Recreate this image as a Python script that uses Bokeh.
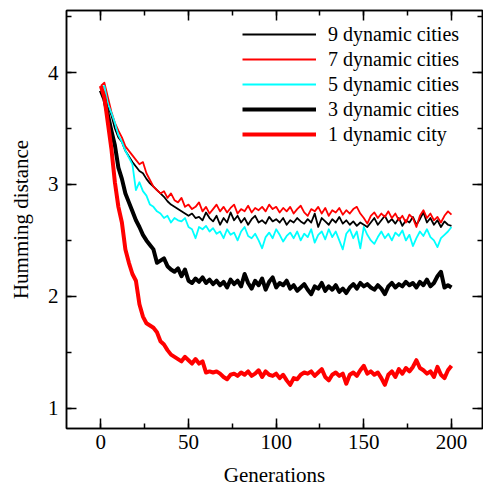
from bokeh.plotting import figure
from bokeh.models import Range1d, LinearAxis, SingleIntervalTicker, Legend, LegendItem
from bokeh.embed import file_html
from bokeh.resources import INLINE

gens = list(range(0, 201, 2))

city9 = [3.85, 3.82, 3.70, 3.62, 3.50, 3.42, 3.38, 3.30, 3.25, 3.20,
         3.16, 3.12, 3.10, 3.05, 3.01, 2.98, 2.95, 2.92, 2.89, 2.85,
         2.82, 2.80, 2.78, 2.76, 2.74, 2.72, 2.74, 2.70, 2.71, 2.68,
         2.75, 2.70, 2.67, 2.72, 2.64, 2.70, 2.66, 2.75, 2.68, 2.72,
         2.66, 2.70, 2.64, 2.69, 2.72, 2.66, 2.68, 2.65, 2.71, 2.67,
         2.69, 2.66, 2.70, 2.64, 2.68, 2.66, 2.70, 2.67, 2.65, 2.69,
         2.66, 2.74, 2.62, 2.70, 2.67, 2.64, 2.69, 2.66, 2.71, 2.65,
         2.68, 2.64, 2.67, 2.63, 2.66, 2.64, 2.62, 2.66, 2.70, 2.64,
         2.68, 2.72, 2.66, 2.69, 2.65, 2.70, 2.63, 2.68, 2.66, 2.71,
         2.64, 2.69, 2.75, 2.66, 2.70, 2.64, 2.68, 2.62, 2.67, 2.64,
         2.63]

city7 = [3.88, 3.91, 3.78, 3.65, 3.55, 3.48, 3.42, 3.34, 3.30, 3.26,
         3.22, 3.18, 3.20, 3.10, 3.04, 2.98, 2.95, 2.92, 2.94, 2.88,
         2.92, 2.86, 2.84, 2.88, 2.80, 2.82, 2.78, 2.80, 2.84, 2.76,
         2.80, 2.74, 2.78, 2.82, 2.76, 2.80, 2.75, 2.79, 2.82, 2.74,
         2.78, 2.76, 2.81, 2.75, 2.79, 2.77, 2.80, 2.76, 2.82, 2.78,
         2.80, 2.75, 2.79, 2.76, 2.80, 2.74, 2.78, 2.81, 2.75, 2.72,
         2.78, 2.76, 2.80, 2.74, 2.79, 2.72, 2.77, 2.75, 2.79, 2.73,
         2.77, 2.74, 2.78, 2.80, 2.74, 2.70, 2.65, 2.72, 2.75, 2.70,
         2.74, 2.71, 2.76, 2.70, 2.74, 2.68, 2.72, 2.66, 2.73, 2.70,
         2.62, 2.72, 2.77, 2.70, 2.74, 2.68, 2.71, 2.66, 2.72, 2.76,
         2.73]

city5 = [3.86, 3.88, 3.72, 3.64, 3.55, 3.44, 3.38, 3.30, 3.24, 3.18,
         2.95, 3.02, 2.94, 2.90, 2.82, 2.80, 2.76, 2.74, 2.70, 2.72,
         2.66, 2.70, 2.68, 2.67, 2.70, 2.62, 2.60, 2.52, 2.62, 2.60,
         2.63, 2.58, 2.61, 2.56, 2.58, 2.52, 2.60, 2.55, 2.57, 2.50,
         2.58, 2.62, 2.54, 2.52, 2.56, 2.50, 2.43, 2.53, 2.57, 2.52,
         2.60, 2.55, 2.49, 2.54, 2.57, 2.52, 2.58, 2.50, 2.56, 2.53,
         2.60, 2.48, 2.55, 2.58, 2.51, 2.60, 2.53, 2.58, 2.50, 2.42,
         2.56, 2.60, 2.52, 2.58, 2.43, 2.62, 2.55, 2.50, 2.47, 2.53,
         2.58, 2.52, 2.56, 2.50, 2.57, 2.54, 2.59, 2.50, 2.55, 2.45,
         2.52, 2.58, 2.54, 2.60, 2.53, 2.50, 2.44, 2.52, 2.55, 2.58,
         2.62]

city3 = [3.84, 3.76, 3.62, 3.48, 3.35, 3.15, 3.05, 2.92, 2.84, 2.76,
         2.68, 2.62, 2.55, 2.50, 2.46, 2.42, 2.30, 2.32, 2.34, 2.27,
         2.24, 2.22, 2.25, 2.18, 2.24, 2.14, 2.12, 2.16, 2.13, 2.17,
         2.12, 2.15, 2.11, 2.14, 2.10, 2.13, 2.08, 2.15, 2.11, 2.14,
         2.09, 2.20, 2.12, 2.07, 2.14, 2.10, 2.16, 2.06, 2.13, 2.17,
         2.08, 2.12, 2.10, 2.14, 2.07, 2.10, 2.05, 2.08, 2.11, 2.06,
         2.02, 2.09, 2.07, 2.12, 2.05, 2.09, 2.06, 2.10, 2.04, 2.07,
         2.03, 2.08, 2.11, 2.07, 2.12, 2.09, 2.11, 2.08, 2.06, 2.10,
         2.07, 2.02, 2.09, 2.12, 2.08, 2.11, 2.09, 2.13, 2.10, 2.12,
         2.08, 2.13, 2.10, 2.15, 2.09, 2.12, 2.18, 2.22, 2.08, 2.10,
         2.08]

city1 = [3.88, 3.78, 3.55, 3.32, 3.02, 2.80, 2.66, 2.42, 2.30, 2.20,
         2.14, 1.93, 1.82, 1.76, 1.74, 1.72, 1.68, 1.60, 1.57, 1.52,
         1.48, 1.46, 1.44, 1.42, 1.46, 1.43, 1.40, 1.44, 1.40, 1.42,
         1.32, 1.33, 1.32, 1.33, 1.31, 1.28, 1.26, 1.30, 1.31, 1.29,
         1.32, 1.30, 1.33, 1.29, 1.31, 1.34, 1.28, 1.33, 1.30, 1.29,
         1.31, 1.27, 1.30, 1.25, 1.21, 1.27, 1.26, 1.30, 1.32, 1.31,
         1.33, 1.29, 1.32, 1.35, 1.28, 1.25, 1.30, 1.32, 1.29, 1.31,
         1.22, 1.30, 1.32, 1.29, 1.34, 1.38, 1.31, 1.33, 1.30, 1.32,
         1.27, 1.21, 1.30, 1.33, 1.28, 1.35, 1.31, 1.36, 1.33, 1.37,
         1.43, 1.36, 1.34, 1.31, 1.33, 1.28, 1.37, 1.30, 1.27, 1.34,
         1.38]

series = [
    ("9 dynamic cities", city9, "#000000", 1.8),
    ("7 dynamic cities", city7, "#ff0000", 1.8),
    ("5 dynamic cities", city5, "#00ffff", 1.8),
    ("3 dynamic cities", city3, "#000000", 4.0),
    ("1 dynamic city", city1, "#ff0000", 4.0),
]

FONT = "Liberation Serif"

p = figure(width=483, height=489, output_backend="svg", toolbar_location=None,
           x_range=Range1d(-19.6, 217.7), y_range=Range1d(0.82, 4.554),
           min_border_left=66, min_border_right=1, min_border_top=10,
           min_border_bottom=59)
p.background_fill_color = "white"
p.border_fill_color = "white"
p.outline_line_color = "black"
p.outline_line_width = 1.5
p.xgrid.visible = False
p.ygrid.visible = False

items = []
for label, vals, color, w in series:
    r = p.line(gens, vals, line_color=color, line_width=w, line_join="round")
    items.append(LegendItem(label=label, renderers=[r]))

def style_axis(ax, labels=True):
    ax.axis_line_color = "black"
    ax.axis_line_width = 1.5
    ax.major_tick_line_color = "black"
    ax.major_tick_line_width = 1.5
    ax.minor_tick_line_color = "black"
    ax.minor_tick_line_width = 1.5
    ax.major_tick_in = 10
    ax.major_tick_out = 0
    ax.minor_tick_in = 5
    ax.minor_tick_out = 0
    ax.major_label_text_font = FONT
    if labels:
        ax.major_label_text_color = "black"
        ax.major_label_text_font_size = "21px"
    else:
        ax.major_label_text_color = None
        ax.major_label_text_font_size = "0px"
        ax.major_label_standoff = 0

xt = SingleIntervalTicker(interval=50, num_minor_ticks=2)
yt = SingleIntervalTicker(interval=1, num_minor_ticks=2)

p.xaxis.ticker = xt
p.yaxis.ticker = yt
style_axis(p.xaxis[0])
style_axis(p.yaxis[0])
p.xaxis.major_label_standoff = 6
p.yaxis.major_label_standoff = 8
p.xaxis.axis_label = "Generations"
p.yaxis.axis_label = "Humming distance"
for ax in (p.xaxis[0], p.yaxis[0]):
    ax.axis_label_text_font = FONT
    ax.axis_label_text_font_size = "21px"
    ax.axis_label_text_font_style = "normal"
    ax.axis_label_text_color = "black"
p.xaxis.axis_label_standoff = 11
p.yaxis.axis_label_standoff = 12

top = LinearAxis(ticker=SingleIntervalTicker(interval=50, num_minor_ticks=2))
right = LinearAxis(ticker=SingleIntervalTicker(interval=1, num_minor_ticks=2))
style_axis(top, labels=False)
style_axis(right, labels=False)
p.add_layout(top, "above")
p.add_layout(right, "right")

legend = Legend(items=items, location=(176, 282), border_line_color=None,
                background_fill_alpha=0, padding=0, margin=0, spacing=1,
                glyph_width=74, glyph_height=24, label_height=24,
                label_standoff=12, label_text_font=FONT,
                label_text_font_size="20px", label_text_color="black")
p.add_layout(legend)

open("out.html", "w").write(file_html(p, INLINE))
